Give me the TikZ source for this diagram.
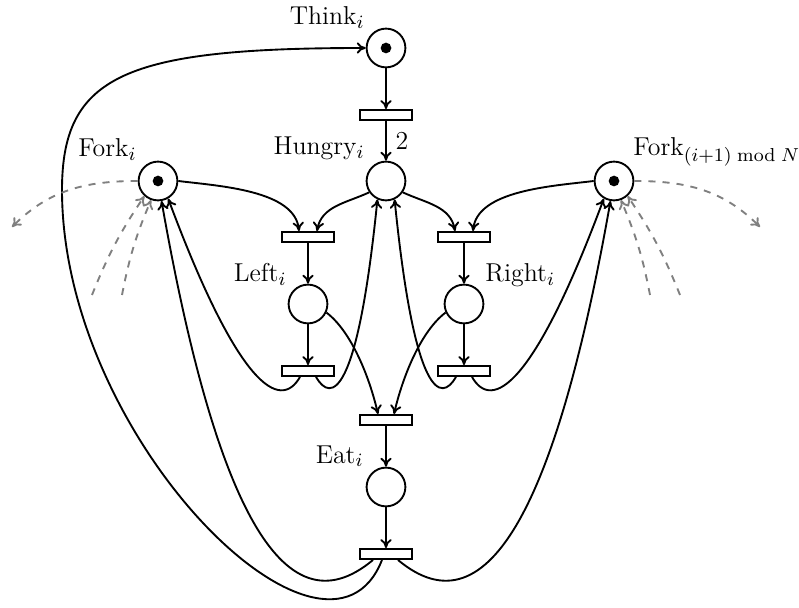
\documentclass[tikz,border=0pt]{standalone}
\usetikzlibrary{calc,arrows.meta}
\begin{document}
\begin{tikzpicture}[x=0.014948cm, y=0.014948cm,
  font=\fontsize{11}{13}\selectfont,
  pplace/.style={circle, draw, thick, minimum size=5.8mm, inner sep=0pt},
  ptrans/.style={rectangle, draw, thick, minimum width=7.8mm, minimum height=1.5mm, inner sep=0pt},
  ptok/.style={circle, fill, inner sep=0pt, minimum size=1.6mm},
  lbl/.style={inner sep=0pt},
  arc/.style={-{To[length=3.8pt, width=4.8pt]}, thick},
  ext/.style={-{To[length=3.8pt, width=4.8pt]}, thick, dashed, gray}]
\useasboundingbox (0,0) rectangle (799,-608);

% places
\node[pplace] (think)  at (386,-48)  {};
\node[pplace] (hungry) at (386,-181) {};
\node[pplace] (forkL)  at (158,-181) {};
\node[pplace] (forkR)  at (614,-181) {};
\node[pplace] (leftp)  at (308,-304) {};
\node[pplace] (rightp) at (464,-304) {};
\node[pplace] (eat)    at (386,-487) {};

% tokens
\node[ptok] (tkThink) at (think) {};
\node[ptok] (tkForkL) at (forkL) {};
\node[ptok] (tkForkR) at (forkR) {};

% transitions
\node[ptrans] (t1)   at (386,-115) {};
\node[ptrans] (lt)   at (308,-237) {};
\node[ptrans] (rt)   at (464,-237) {};
\node[ptrans] (lt2)  at (308,-371) {};
\node[ptrans] (rt2)  at (464,-371) {};
\node[ptrans] (teat) at (386,-420) {};
\node[ptrans] (tfin) at (386,-554) {};

% labels
\node[lbl, anchor=base east] (lThink)  at (365,-25)  {Think$_i$};
\node[lbl, anchor=base east] (lHungry) at (365,-155) {Hungry$_i$};
\node[lbl, anchor=base east] (lForkL)  at (137,-157) {Fork$_i$};
\node[lbl, anchor=base west] (lForkR)  at (633,-156) {Fork$_{(i+1) \bmod N}$};
\node[lbl, anchor=base east] (lLeft)   at (287,-282) {Left$_i$};
\node[lbl, anchor=base west] (lRight)  at (485,-282) {Right$_i$};
\node[lbl, anchor=base east] (lEat)    at (364,-463) {Eat$_i$};
\node (two) at (402,-141) {2};

% main column
\draw[arc] (think) -- (t1);
\draw[arc] (t1) -- (hungry);
\draw[arc] (teat) -- (eat);
\draw[arc] (eat) -- (tfin);

% picking up the forks
\draw[arc] (forkL.east) .. controls +(40,-5) and +(-4,41) .. ($(lt.north)+(-9,0)$);
\draw[arc] (hungry.214) to[out=205, in=80] ($(lt.north)+(9,0)$);
\draw[arc] (hungry.326) to[out=-25, in=100] ($(rt.north)+(-9,0)$);
\draw[arc] (forkR.west) .. controls +(-40,-5) and +(4,41) .. ($(rt.north)+(9,0)$);
\draw[arc] (lt) -- (leftp);
\draw[arc] (leftp) -- (lt2);
\draw[arc] (rt) -- (rightp);
\draw[arc] (rightp) -- (rt2);

% giving a single fork back
\draw[arc] ($(lt2.south)+(-8,0)$) .. controls +(-20,-35) and +(70,-188) .. (forkL.-60);
\draw[arc] ($(lt2.south)+(8,0)$) .. controls +(15,-26) and +(-20,-199) .. (hungry.245);
\draw[arc] ($(rt2.south)+(-8,0)$) .. controls +(-15,-26) and +(20,-199) .. (hungry.295);
\draw[arc] ($(rt2.south)+(8,0)$) .. controls +(20,-35) and +(-70,-188) .. (forkR.240);

% both forks held: start eating
\draw[arc] (leftp.-25) .. controls +(24,-18) and +(-9,39) .. ($(teat.north)+(-8,0)$);
\draw[arc] (rightp.205) .. controls +(-24,-18) and +(9,39) .. ($(teat.north)+(8,0)$);

% done eating: release forks, back to thinking
\coordinate (loopL) at (62,-190);
\draw[arc] ($(tfin.south)+(-4,0)$) .. controls +(-55,-140) and +(0,-250) .. (loopL)
  .. controls +(0,115) and +(-240,0) .. (think.west);
\draw[arc] ($(tfin.south)+(-13,0)$) .. controls +(-92,-77) and +(52,-295) .. (forkL.-80);
\draw[arc] ($(tfin.south)+(12,0)$) .. controls +(92,-77) and +(-52,-295) .. (forkR.-100);

% neighbouring philosophers
\coordinate (dL)  at (12,-227);
\coordinate (dL1) at (92,-295);
\coordinate (dL2) at (122,-295);
\draw[ext] (forkL.west) to[out=180, in=45] (dL);
\draw[ext] (dL1) to[bend left=6] (forkL.228);
\draw[ext] (dL2) to[bend left=6] (forkL.250);
\coordinate (dR)  at (760,-227);
\coordinate (dR1) at (680,-295);
\coordinate (dR2) at (650,-295);
\draw[ext] (forkR.east) to[out=0, in=135] (dR);
\draw[ext] (dR1) to[bend right=6] (forkR.312);
\draw[ext] (dR2) to[bend right=6] (forkR.290);
\end{tikzpicture}
\end{document}
